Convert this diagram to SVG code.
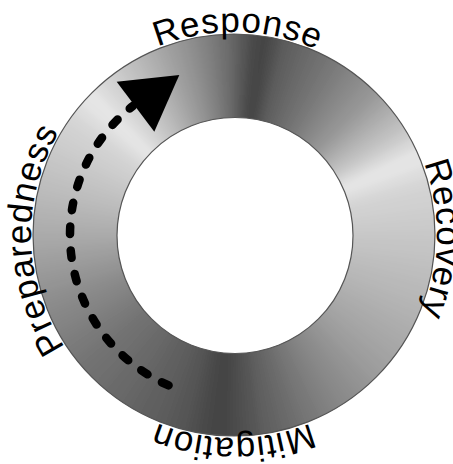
<svg xmlns="http://www.w3.org/2000/svg" xmlns:xlink="http://www.w3.org/1999/xlink" width="453" height="464" viewBox="0 0 453 464">
<style>
.lbl{font-family:"Liberation Sans",Arial,sans-serif;font-size:35px;letter-spacing:0.8px;text-anchor:middle;fill:#000}
.edge{fill:none;stroke:#555;stroke-width:1.2}
</style>
<defs>
<path id="w" d="M0,0L-6.2,-212L6.2,-212Z"/>
<clipPath id="ringclip"><circle cx="234" cy="235" r="201"/></clipPath>
<filter id="wb" x="-10%" y="-10%" width="120%" height="120%"><feGaussianBlur stdDeviation="3"/></filter>
<filter id="soft" x="-10%" y="-10%" width="120%" height="120%"><feGaussianBlur stdDeviation="0.7"/></filter>
<path id="tp" d="M103.5,390.5 A203,203 0 1 1 364.5,79.5 A203,203 0 1 1 103.5,390.5" fill="none"/>
</defs>
<g id="ring">
<g clip-path="url(#ringclip)">
<g filter="url(#wb)" transform="translate(234,235)">
<use href="#w" transform="rotate(0)" fill="rgb(100,100,100)"/>
<use href="#w" transform="rotate(3)" fill="rgb(87,87,87)"/>
<use href="#w" transform="rotate(6)" fill="rgb(73,73,73)"/>
<use href="#w" transform="rotate(9)" fill="rgb(68,68,68)"/>
<use href="#w" transform="rotate(12)" fill="rgb(80,80,80)"/>
<use href="#w" transform="rotate(15)" fill="rgb(92,92,92)"/>
<use href="#w" transform="rotate(18)" fill="rgb(98,98,98)"/>
<use href="#w" transform="rotate(21)" fill="rgb(103,103,103)"/>
<use href="#w" transform="rotate(24)" fill="rgb(109,109,109)"/>
<use href="#w" transform="rotate(27)" fill="rgb(114,114,114)"/>
<use href="#w" transform="rotate(30)" fill="rgb(120,120,120)"/>
<use href="#w" transform="rotate(33)" fill="rgb(126,126,126)"/>
<use href="#w" transform="rotate(36)" fill="rgb(133,133,133)"/>
<use href="#w" transform="rotate(39)" fill="rgb(139,139,139)"/>
<use href="#w" transform="rotate(42)" fill="rgb(146,146,146)"/>
<use href="#w" transform="rotate(45)" fill="rgb(152,152,152)"/>
<use href="#w" transform="rotate(48)" fill="rgb(162,162,162)"/>
<use href="#w" transform="rotate(51)" fill="rgb(172,172,172)"/>
<use href="#w" transform="rotate(54)" fill="rgb(182,182,182)"/>
<use href="#w" transform="rotate(57)" fill="rgb(192,192,192)"/>
<use href="#w" transform="rotate(60)" fill="rgb(203,203,203)"/>
<use href="#w" transform="rotate(63)" fill="rgb(216,216,216)"/>
<use href="#w" transform="rotate(66)" fill="rgb(228,228,228)"/>
<use href="#w" transform="rotate(69)" fill="rgb(228,228,228)"/>
<use href="#w" transform="rotate(72)" fill="rgb(221,221,221)"/>
<use href="#w" transform="rotate(75)" fill="rgb(214,214,214)"/>
<use href="#w" transform="rotate(78)" fill="rgb(210,210,210)"/>
<use href="#w" transform="rotate(81)" fill="rgb(208,208,208)"/>
<use href="#w" transform="rotate(84)" fill="rgb(205,205,205)"/>
<use href="#w" transform="rotate(87)" fill="rgb(203,203,203)"/>
<use href="#w" transform="rotate(90)" fill="rgb(200,200,200)"/>
<use href="#w" transform="rotate(93)" fill="rgb(197,197,197)"/>
<use href="#w" transform="rotate(96)" fill="rgb(195,195,195)"/>
<use href="#w" transform="rotate(99)" fill="rgb(192,192,192)"/>
<use href="#w" transform="rotate(102)" fill="rgb(189,189,189)"/>
<use href="#w" transform="rotate(105)" fill="rgb(186,186,186)"/>
<use href="#w" transform="rotate(108)" fill="rgb(184,184,184)"/>
<use href="#w" transform="rotate(111)" fill="rgb(181,181,181)"/>
<use href="#w" transform="rotate(114)" fill="rgb(178,178,178)"/>
<use href="#w" transform="rotate(117)" fill="rgb(175,175,175)"/>
<use href="#w" transform="rotate(120)" fill="rgb(172,172,172)"/>
<use href="#w" transform="rotate(123)" fill="rgb(169,169,169)"/>
<use href="#w" transform="rotate(126)" fill="rgb(166,166,166)"/>
<use href="#w" transform="rotate(129)" fill="rgb(163,163,163)"/>
<use href="#w" transform="rotate(132)" fill="rgb(159,159,159)"/>
<use href="#w" transform="rotate(135)" fill="rgb(155,155,155)"/>
<use href="#w" transform="rotate(138)" fill="rgb(150,150,150)"/>
<use href="#w" transform="rotate(141)" fill="rgb(146,146,146)"/>
<use href="#w" transform="rotate(144)" fill="rgb(141,141,141)"/>
<use href="#w" transform="rotate(147)" fill="rgb(137,137,137)"/>
<use href="#w" transform="rotate(150)" fill="rgb(132,132,132)"/>
<use href="#w" transform="rotate(153)" fill="rgb(127,127,127)"/>
<use href="#w" transform="rotate(156)" fill="rgb(121,121,121)"/>
<use href="#w" transform="rotate(159)" fill="rgb(116,116,116)"/>
<use href="#w" transform="rotate(162)" fill="rgb(110,110,110)"/>
<use href="#w" transform="rotate(165)" fill="rgb(105,105,105)"/>
<use href="#w" transform="rotate(168)" fill="rgb(100,100,100)"/>
<use href="#w" transform="rotate(171)" fill="rgb(94,94,94)"/>
<use href="#w" transform="rotate(174)" fill="rgb(87,87,87)"/>
<use href="#w" transform="rotate(177)" fill="rgb(81,81,81)"/>
<use href="#w" transform="rotate(180)" fill="rgb(75,75,75)"/>
<use href="#w" transform="rotate(183)" fill="rgb(68,68,68)"/>
<use href="#w" transform="rotate(186)" fill="rgb(69,69,69)"/>
<use href="#w" transform="rotate(189)" fill="rgb(74,74,74)"/>
<use href="#w" transform="rotate(192)" fill="rgb(79,79,79)"/>
<use href="#w" transform="rotate(195)" fill="rgb(84,84,84)"/>
<use href="#w" transform="rotate(198)" fill="rgb(88,88,88)"/>
<use href="#w" transform="rotate(201)" fill="rgb(91,91,91)"/>
<use href="#w" transform="rotate(204)" fill="rgb(94,94,94)"/>
<use href="#w" transform="rotate(207)" fill="rgb(97,97,97)"/>
<use href="#w" transform="rotate(210)" fill="rgb(100,100,100)"/>
<use href="#w" transform="rotate(213)" fill="rgb(102,102,102)"/>
<use href="#w" transform="rotate(216)" fill="rgb(105,105,105)"/>
<use href="#w" transform="rotate(219)" fill="rgb(107,107,107)"/>
<use href="#w" transform="rotate(222)" fill="rgb(110,110,110)"/>
<use href="#w" transform="rotate(225)" fill="rgb(112,112,112)"/>
<use href="#w" transform="rotate(228)" fill="rgb(114,114,114)"/>
<use href="#w" transform="rotate(231)" fill="rgb(117,117,117)"/>
<use href="#w" transform="rotate(234)" fill="rgb(121,121,121)"/>
<use href="#w" transform="rotate(237)" fill="rgb(124,124,124)"/>
<use href="#w" transform="rotate(240)" fill="rgb(128,128,128)"/>
<use href="#w" transform="rotate(243)" fill="rgb(132,132,132)"/>
<use href="#w" transform="rotate(246)" fill="rgb(135,135,135)"/>
<use href="#w" transform="rotate(249)" fill="rgb(139,139,139)"/>
<use href="#w" transform="rotate(252)" fill="rgb(143,143,143)"/>
<use href="#w" transform="rotate(255)" fill="rgb(148,148,148)"/>
<use href="#w" transform="rotate(258)" fill="rgb(152,152,152)"/>
<use href="#w" transform="rotate(261)" fill="rgb(157,157,157)"/>
<use href="#w" transform="rotate(264)" fill="rgb(161,161,161)"/>
<use href="#w" transform="rotate(267)" fill="rgb(166,166,166)"/>
<use href="#w" transform="rotate(270)" fill="rgb(170,170,170)"/>
<use href="#w" transform="rotate(273)" fill="rgb(174,174,174)"/>
<use href="#w" transform="rotate(276)" fill="rgb(178,178,178)"/>
<use href="#w" transform="rotate(279)" fill="rgb(182,182,182)"/>
<use href="#w" transform="rotate(282)" fill="rgb(186,186,186)"/>
<use href="#w" transform="rotate(285)" fill="rgb(190,190,190)"/>
<use href="#w" transform="rotate(288)" fill="rgb(193,193,193)"/>
<use href="#w" transform="rotate(291)" fill="rgb(197,197,197)"/>
<use href="#w" transform="rotate(294)" fill="rgb(200,200,200)"/>
<use href="#w" transform="rotate(297)" fill="rgb(204,204,204)"/>
<use href="#w" transform="rotate(300)" fill="rgb(207,207,207)"/>
<use href="#w" transform="rotate(303)" fill="rgb(210,210,210)"/>
<use href="#w" transform="rotate(306)" fill="rgb(214,214,214)"/>
<use href="#w" transform="rotate(309)" fill="rgb(221,221,221)"/>
<use href="#w" transform="rotate(312)" fill="rgb(228,228,228)"/>
<use href="#w" transform="rotate(315)" fill="rgb(229,229,229)"/>
<use href="#w" transform="rotate(318)" fill="rgb(220,220,220)"/>
<use href="#w" transform="rotate(321)" fill="rgb(212,212,212)"/>
<use href="#w" transform="rotate(324)" fill="rgb(204,204,204)"/>
<use href="#w" transform="rotate(327)" fill="rgb(196,196,196)"/>
<use href="#w" transform="rotate(330)" fill="rgb(189,189,189)"/>
<use href="#w" transform="rotate(333)" fill="rgb(181,181,181)"/>
<use href="#w" transform="rotate(336)" fill="rgb(173,173,173)"/>
<use href="#w" transform="rotate(339)" fill="rgb(165,165,165)"/>
<use href="#w" transform="rotate(342)" fill="rgb(157,157,157)"/>
<use href="#w" transform="rotate(345)" fill="rgb(149,149,149)"/>
<use href="#w" transform="rotate(348)" fill="rgb(141,141,141)"/>
<use href="#w" transform="rotate(351)" fill="rgb(132,132,132)"/>
<use href="#w" transform="rotate(354)" fill="rgb(122,122,122)"/>
<use href="#w" transform="rotate(357)" fill="rgb(111,111,111)"/>
</g>
</g>
<circle class="edge" cx="234" cy="235" r="201"/>
<circle cx="235" cy="235.5" r="118" fill="#fff" stroke="#555" stroke-width="1.2"/>
</g>
<g id="label-preparedness"><text class="lbl"><textPath href="#tp" startOffset="171.8">Preparedness</textPath></text></g>
<g id="label-response"><text class="lbl"><textPath href="#tp" startOffset="499.6">Response</textPath></text></g>
<g id="label-recovery"><text class="lbl"><textPath href="#tp" startOffset="818.4">Recovery</textPath></text></g>
<g id="label-mitigation"><text class="lbl"><textPath href="#tp" startOffset="1133.8">Mitigation</textPath></text></g>
<g id="connectors" filter="url(#soft)">
<path d="M168.6,385.4 A164,164 0 0 1 133,105.8" fill="none" stroke="#000" stroke-width="8.5" stroke-dasharray="7.5 16.4" stroke-linecap="round"/>
<polygon points="116.7,81.7 179.3,75 154.3,131.7" fill="#000"/>
</g>
</svg>
